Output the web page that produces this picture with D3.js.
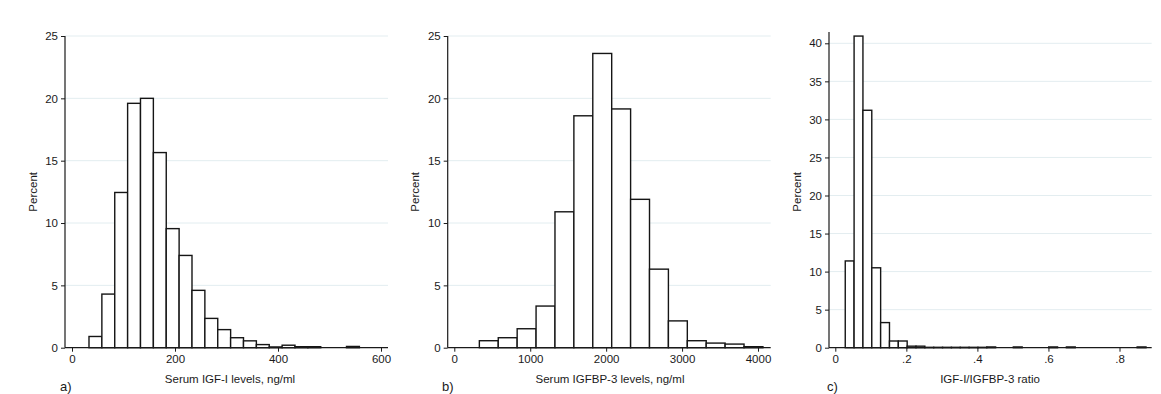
<!DOCTYPE html>
<html>
<head>
<meta charset="utf-8">
<script src="https://cdn.jsdelivr.net/npm/d3@7"></script>
<style>
  html, body { margin: 0; padding: 0; background: #fff; }
  svg { display: block; }
  text { font-family: Arial, "Liberation Sans", sans-serif; fill: #1a1a1a; }
</style>
</head>
<body>
<svg id="chart" width="1161" height="394"></svg>
<script>
// Percent of subjects per bin; bins are equal width starting at the given lower edge.
const igfStart = 33, igfWidth = 25;
const igfPercent = [0.9, 4.3, 12.45, 19.6, 20.0, 15.65, 9.55, 7.4, 4.6, 2.35, 1.45,
                    0.8, 0.55, 0.25, 0.06, 0.2, 0.08, 0.08, 0, 0, 0.1];

const bp3Start = 330, bp3Width = 249;
const bp3Percent = [0.56, 0.8, 1.52, 3.34, 10.9, 18.6, 23.6, 19.15, 11.9, 6.3,
                    2.15, 0.56, 0.37, 0.29, 0.08];

const ratioStart = 0.028, ratioWidth = 0.0249;
const ratioPercent = [11.4, 40.95, 31.2, 10.5, 3.3, 0.88, 0.88, 0.2, 0.2, 0.05,
                      0.05, 0.05, 0.05, 0.05, 0.05, 0.05, 0.1, 0, 0, 0.1,
                      0, 0, 0, 0.1, 0, 0.1, 0, 0, 0, 0, 0, 0, 0, 0.1];

const igfTicks = [0, 200, 400, 600];
const bp3Ticks = [0, 1000, 2000, 3000, 4000];
const ratioTicks = [0, 0.2, 0.4, 0.6, 0.8];
const ratioTickLabels = ["0", ".2", ".4", ".6", ".8"];
const pctTicksAB = [0, 5, 10, 15, 20, 25];
const pctTicksC = [0, 5, 10, 15, 20, 25, 30, 35, 40];

const panels = [
  { letter: "a)", title: "Serum IGF-I levels, ng/ml",
    start: igfStart, width: igfWidth, values: igfPercent,
    xDomain: [0, 600], xRange: [72, 381], xTicks: igfTicks, xFmt: d => String(d),
    yMax: 25, yTicks: pctTicksAB,
    left: 65, right: 388, ylabX: 33, letterX: 60, titleX: 230 },
  { letter: "b)", title: "Serum IGFBP-3 levels, ng/ml",
    start: bp3Start, width: bp3Width, values: bp3Percent,
    xDomain: [0, 4000], xRange: [454.3, 758], xTicks: bp3Ticks, xFmt: d => String(d),
    yMax: 25, yTicks: pctTicksAB,
    left: 447.7, right: 770.7, ylabX: 415, letterX: 442, titleX: 610 },
  { letter: "c)", title: "IGF-I/IGFBP-3 ratio",
    start: ratioStart, width: ratioWidth, values: ratioPercent,
    xDomain: [0, 0.8], xRange: [835.3, 1119.5], xTicks: ratioTicks,
    xFmt: (d, i) => ratioTickLabels[i],
    yMax: 41.5, yTicks: pctTicksC,
    left: 829, right: 1151.7, ylabX: 797, letterX: 827, titleX: 990 }
];

const svg = d3.select("#chart");
const y0px = 347.7;

panels.forEach(p => {
  const g = svg.append("g");
  const x = d3.scaleLinear().domain(p.xDomain).range(p.xRange);
  const yTopPx = p.yMax === 25 ? 36 : y0px - (y0px - 43.3) / 40 * p.yMax;
  const y = d3.scaleLinear().domain([0, p.yMax]).range([y0px, yTopPx]);

  // horizontal grid lines
  g.append("g").selectAll("line")
    .data(p.yTicks.filter(t => t > 0))
    .join("line")
    .attr("x1", p.left).attr("x2", p.right)
    .attr("y1", d => y(d)).attr("y2", d => y(d))
    .attr("stroke", "#e3edf0").attr("stroke-width", 1);

  // histogram bars
  const bins = p.values.map((v, i) => ({
    x0: p.start + i * p.width, x1: p.start + (i + 1) * p.width, v
  })).filter(b => b.v > 0);
  g.append("g").selectAll("rect")
    .data(bins)
    .join("rect")
    .attr("x", d => x(d.x0))
    .attr("width", d => x(d.x1) - x(d.x0))
    .attr("y", d => y(d.v))
    .attr("height", d => y(0) - y(d.v))
    .attr("fill", "#fff")
    .attr("stroke", "#151515")
    .attr("stroke-width", 1.4);

  // y axis
  const yAxis = d3.axisLeft(y).tickValues(p.yTicks).tickSize(4).tickPadding(3)
    .tickFormat(d => String(d));
  const ya = g.append("g").attr("transform", `translate(${p.left},0)`).call(yAxis);
  ya.select(".domain").remove();
  ya.selectAll(".tick line").attr("stroke", "#1a1a1a");
  ya.selectAll(".tick text").attr("font-size", 11.5).attr("fill", "#1a1a1a");
  g.append("line")
    .attr("x1", p.left).attr("x2", p.left)
    .attr("y1", y(0)).attr("y2", y(p.yMax))
    .attr("stroke", "#1a1a1a").attr("stroke-width", 1.2);

  // x axis
  const xAxis = d3.axisBottom(x).tickValues(p.xTicks).tickSize(4).tickPadding(3)
    .tickFormat(p.xFmt);
  const xa = g.append("g").attr("transform", `translate(0,${y0px})`).call(xAxis);
  xa.select(".domain").remove();
  xa.selectAll(".tick line").attr("stroke", "#1a1a1a");
  xa.selectAll(".tick text").attr("font-size", 11.5).attr("fill", "#1a1a1a");
  g.append("line")
    .attr("x1", p.left).attr("x2", p.right)
    .attr("y1", y0px).attr("y2", y0px)
    .attr("stroke", "#1a1a1a").attr("stroke-width", 1.2);

  // titles
  g.append("text")
    .attr("transform", `translate(${p.ylabX + 4},${(y0px + 36) / 2}) rotate(-90)`)
    .attr("text-anchor", "middle")
    .attr("font-size", 11.5)
    .text("Percent");
  g.append("text")
    .attr("x", p.titleX).attr("y", 383)
    .attr("text-anchor", "middle")
    .attr("font-size", 11.5)
    .text(p.title);
  g.append("text")
    .attr("x", p.letterX).attr("y", 391)
    .attr("font-size", 13)
    .text(p.letter);
});
</script>
</body>
</html>
